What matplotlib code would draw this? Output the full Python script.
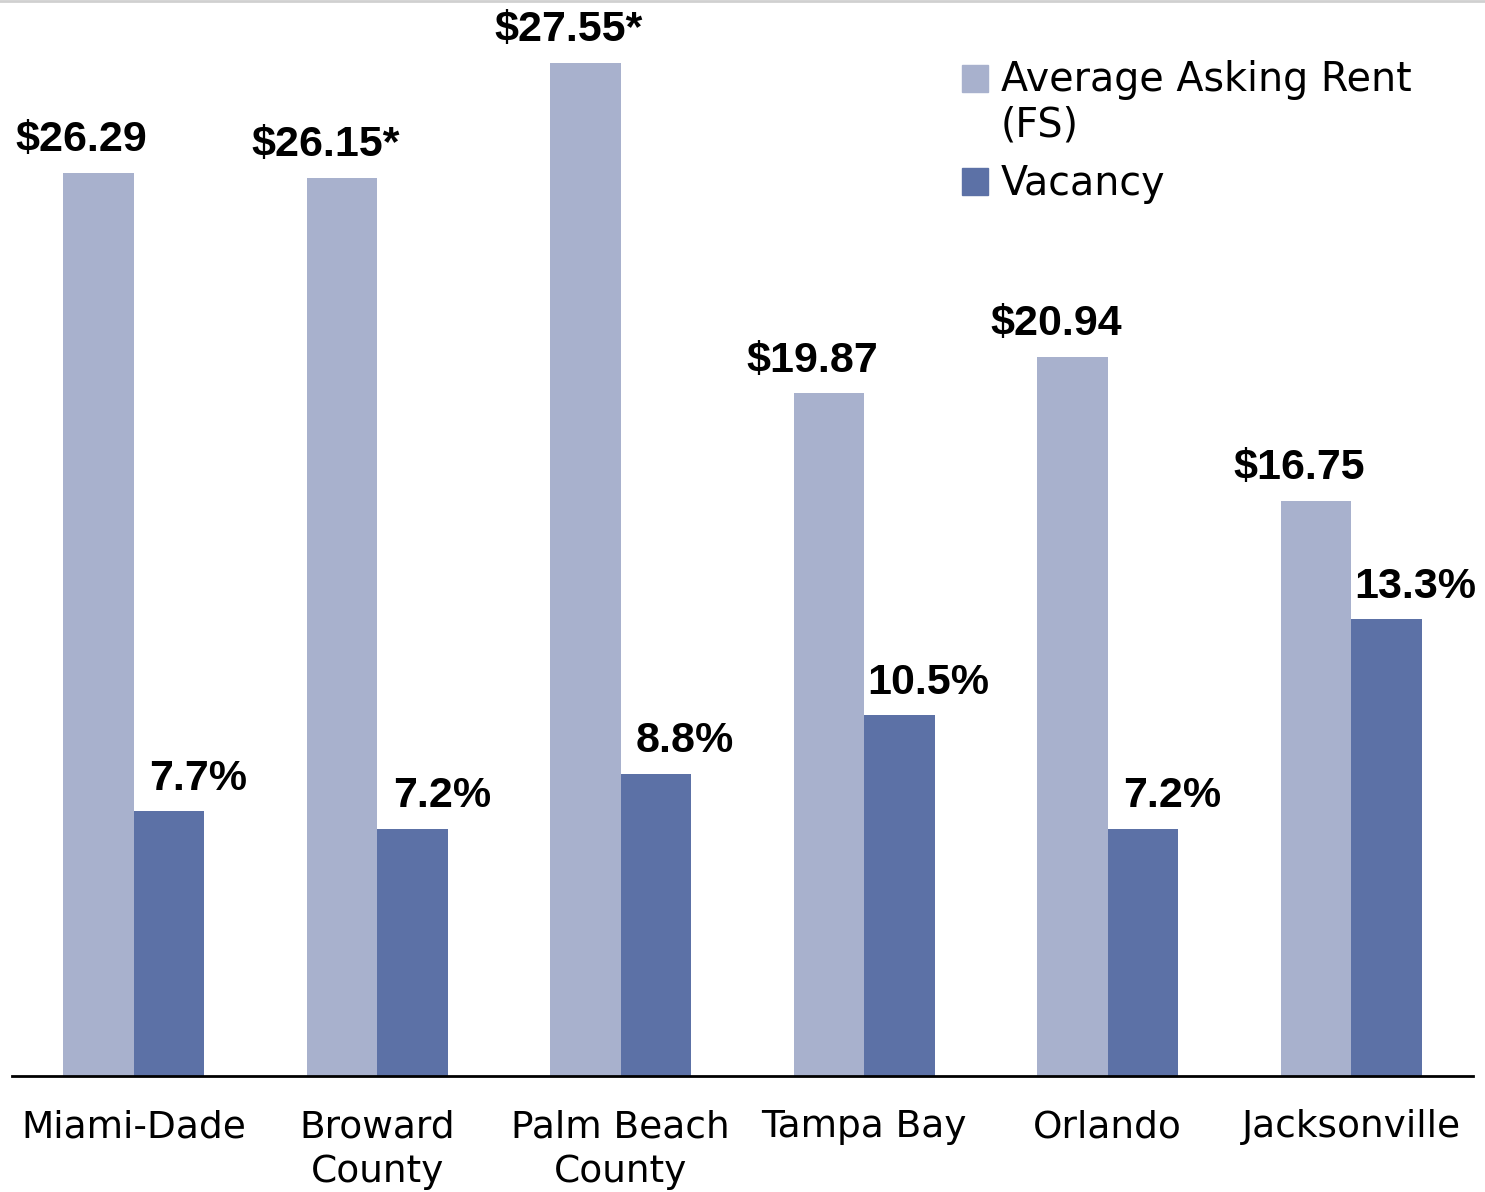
import matplotlib
matplotlib.use("Agg")
import matplotlib.pyplot as plt
import numpy as np
from matplotlib.patches import Rectangle
from matplotlib.lines import Line2D

# ── Data ─────────────────────────────────────────────────────────────────────
markets = ["Miami-Dade", "Broward\nCounty", "Palm Beach\nCounty",
           "Tampa Bay", "Orlando", "Jacksonville"]
# bar heights as drawn (Palm Beach bar is drawn taller than its label says)
rent = [26.29, 26.15, 29.5, 19.87, 20.94, 16.75]
rent_labels = ["$26.29", "$26.15*", "$27.55*", "$19.87", "$20.94", "$16.75"]
vacancy = [7.7, 7.2, 8.8, 10.5, 7.2, 13.3]
vacancy_labels = ["7.7%", "7.2%", "8.8%", "10.5%", "7.2%", "13.3%"]

light = "#a8b1cd"
dark = "#5c71a6"

W, H = 1485, 1192
fig = plt.figure(figsize=(W / 100, H / 100), dpi=100)
ax = fig.add_axes([12 / W, 1 - 1076 / H, 1461 / W, 1076 / H])

x = np.arange(len(markets))
bw = 0.29
ax.bar(x - bw / 2, rent, bw, color=light, zorder=2)
ax.bar(x + bw / 2, vacancy, bw, color=dark, zorder=2)

bold = dict(family="Liberation Sans", weight="bold", fontsize=31)
for xi, v, lab in zip(x, rent, rent_labels):
    ax.annotate(lab, (xi - bw / 2, v), xytext=(-12, 9), textcoords="offset points",
                ha="center", va="bottom", **bold)
for xi, v, lab in zip(x, vacancy, vacancy_labels):
    ax.annotate(lab, (xi + bw / 2, v), xytext=(21, 9), textcoords="offset points",
                ha="center", va="bottom", **bold)

ax.set_xlim(-0.5, 5.5)
ax.set_ylim(0, 31.32)
ax.set_yticks([])
ax.set_xticks(x)
ax.set_xticklabels(markets, family="DejaVu Sans", fontsize=27, linespacing=1.3)
ax.tick_params(axis="x", length=0, pad=24)
for s in ["left", "right", "top"]:
    ax.spines[s].set_visible(False)
ax.spines["bottom"].set_linewidth(2)

# thin grey line along the top edge
fig.add_artist(Line2D([0, 1], [1 - 1 / H, 1 - 1 / H], color="#d0d0d0", lw=2,
                      transform=fig.transFigure))

# ── Legend (drawn by hand so the swatch lines up with the first text line) ──
leg_font = dict(family="DejaVu Sans", fontsize=28.5)
fig.patches.append(Rectangle((962 / W, 1 - 92 / H), 26 / W, 27 / H, color=light,
                             transform=fig.transFigure, figure=fig))
fig.patches.append(Rectangle((962 / W, 1 - 195 / H), 26 / W, 27 / H, color=dark,
                             transform=fig.transFigure, figure=fig))
fig.text(1001 / W, 1 - 91 / H, "Average Asking Rent", va="baseline", **leg_font)
fig.text(1001 / W, 1 - 136 / H, "(FS)", va="baseline", **leg_font)
fig.text(1001 / W, 1 - 195 / H, "Vacancy", va="baseline", **leg_font)

fig.savefig("out.png", dpi=100)
